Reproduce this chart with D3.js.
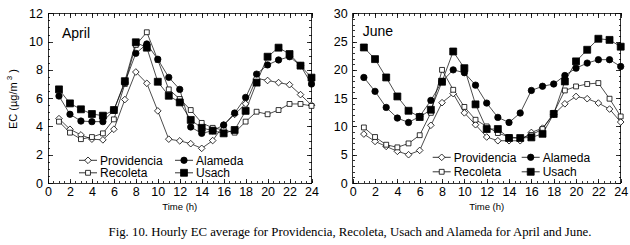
<!DOCTYPE html>
<html>
<head>
<meta charset="utf-8">
<script src="https://cdn.jsdelivr.net/npm/d3@7"></script>
<style>
  body { margin: 0; background: #fff; }
  svg { display: block; }
  text { font-family: Arial, "Liberation Sans", sans-serif; fill: #000; }
  .axis path, .axis line { stroke: #000; stroke-width: 0.8; shape-rendering: crispEdges; }
  .caption { font-family: "Times New Roman", "Liberation Serif", serif; }
</style>
</head>
<body>
<div id="chart"></div>
<script>
// hours 1..24
const hours = d3.range(1, 25);
const stations = ["Providencia", "Recoleta", "Alameda", "Usach"];

// April EC (ug/m3)
const aprilProvidencia = [4.55, 3.8, 3.4, 3.1, 3.05, 3.8, 5.9, 7.85, 7.05, 5.1, 3.1, 2.98, 2.78, 2.45, 3.0, 4.1, 4.85, 5.6, 7.4, 7.25, 7.1, 6.95, 6.25, 5.5];
const aprilRecoleta    = [4.34, 3.56, 3.1, 3.25, 3.51, 4.5, 7.0, 9.76, 10.66, 8.7, 6.62, 5.94, 5.16, 4.25, 3.9, 3.75, 3.56, 4.34, 5.04, 4.86, 5.16, 5.59, 5.59, 5.45];
const aprilAlameda     = [6.15, 4.86, 4.38, 4.34, 4.34, 5.15, 7.1, 9.17, 9.83, 8.75, 7.47, 6.62, 3.96, 3.51, 3.7, 4.1, 4.95, 6.05, 7.7, 8.35, 8.7, 8.93, 8.3, 7.0];
const aprilUsach       = [6.62, 5.63, 5.21, 4.88, 4.76, 5.16, 7.2, 9.95, 9.57, 7.16, 6.17, 5.7, 4.46, 3.9, 3.7, 3.51, 3.75, 5.1, 7.1, 8.93, 9.57, 9.12, 8.3, 7.45];

// June EC (ug/m3)
const juneProvidencia = [8.65, 7.35, 6.47, 5.6, 5.0, 5.76, 10.2, 14.2, 15.8, 12.4, 10.3, 8.13, 7.47, 7.47, 7.47, 8.94, 9.7, 12.1, 14.0, 15.3, 14.9, 14.13, 13.07, 10.78];
const juneRecoleta    = [9.82, 8.13, 6.77, 6.3, 7.0, 8.45, 12.4, 20.0, 16.48, 13.45, 11.18, 10.0, 8.83, 8.13, 7.95, 8.5, 9.54, 12.4, 16.36, 17.07, 17.5, 17.67, 14.9, 11.77];
const juneAlameda     = [18.66, 16.2, 13.36, 11.48, 10.7, 11.77, 14.6, 17.95, 20.0, 19.5, 17.3, 14.13, 11.6, 10.7, 12.37, 16.36, 17.1, 17.5, 19.0, 20.3, 21.2, 21.8, 21.8, 20.6];
const juneUsach       = [23.96, 21.9, 18.66, 15.3, 12.77, 11.66, 12.95, 17.9, 23.25, 20.3, 13.9, 9.54, 9.54, 7.95, 7.95, 8.06, 8.7, 12.2, 17.95, 21.5, 23.55, 25.5, 25.3, 24.1];

const xTicks = d3.range(0, 25, 2);
const aprilYTicks = [0, 2, 4, 6, 8, 10, 12];
const juneYTicks = [0, 5, 10, 15, 20, 25, 30];

const W = 630, H = 245;
const svg = d3.select('#chart').append('svg')
    .attr('width', W)
    .attr('height', H);

// marker shapes per station
const markerStyle = {
    Providencia: {type: d3.symbolDiamond2, size: 28, fill: '#fff'},
    Recoleta: {type: d3.symbolSquare2, size: 30, fill: '#fff'},
    Alameda: {type: d3.symbolCircle, size: 32, fill: '#000'},
    Usach: {type: d3.symbolSquare, size: 48, fill: '#000'}
};

function drawMarker(g, name, x, y) {
    const m = markerStyle[name];
    g.append('path')
        .attr('d', d3.symbol().type(m.type).size(m.size)())
        .attr('transform', `translate(${x},${y})`)
        .attr('fill', m.fill)
        .attr('stroke', '#000')
        .attr('stroke-width', 0.8);
}

function drawPanel(cfg) {
    const width = cfg.right - cfg.left;
    const height = cfg.bottom - cfg.top;
    const g = svg.append('g').attr('transform', `translate(${cfg.left},${cfg.top})`);

    const x = d3.scaleLinear().domain([0, 24]).range([0, width]);
    const y = d3.scaleLinear().domain([0, cfg.yMax]).range([height, 0]);

    const xMinor = d3.range(0, 24.01, 0.5);
    const yMinor = d3.range(0, cfg.yMax + 0.01, cfg.yMinorStep);

    // frame
    g.append('rect')
        .attr('width', width).attr('height', height)
        .attr('fill', 'none').attr('stroke', '#000').attr('stroke-width', 0.8)
        .attr('shape-rendering', 'crispEdges');

    // minor ticks on all sides
    const minor = [
        [d3.axisBottom(x), `translate(0,${height})`, xMinor],
        [d3.axisTop(x), 'translate(0,0)', xMinor],
        [d3.axisLeft(y), 'translate(0,0)', yMinor],
        [d3.axisRight(y), `translate(${width},0)`, yMinor]
    ];
    minor.forEach(([ax, tr, vals]) => {
        g.append('g').attr('class', 'axis').attr('transform', tr)
            .call(ax.tickValues(vals).tickSize(-2.2).tickFormat(''))
            .call(a => a.select('.domain').remove());
    });

    // major ticks with labels
    g.append('g').attr('class', 'axis').attr('transform', `translate(0,${height})`)
        .call(d3.axisBottom(x).tickValues(xTicks).tickSize(-4.5).tickPadding(4))
        .call(a => a.select('.domain').remove())
        .call(a => a.selectAll('text').attr('font-size', 12.5).attr('font-family', 'Arial, "Liberation Sans", sans-serif'));
    g.append('g').attr('class', 'axis')
        .call(d3.axisLeft(y).tickValues(cfg.yTicks).tickSize(-4.5).tickPadding(5))
        .call(a => a.select('.domain').remove())
        .call(a => a.selectAll('text').attr('font-size', 12.5).attr('font-family', 'Arial, "Liberation Sans", sans-serif'));
    g.append('g').attr('class', 'axis')
        .call(d3.axisTop(x).tickValues(xTicks).tickSize(-4.5).tickFormat(''))
        .call(a => a.select('.domain').remove());
    g.append('g').attr('class', 'axis').attr('transform', `translate(${width},0)`)
        .call(d3.axisRight(y).tickValues(cfg.yTicks).tickSize(-4.5).tickFormat(''))
        .call(a => a.select('.domain').remove());

    // x title
    g.append('text')
        .attr('x', width / 2).attr('y', height + 27)
        .attr('text-anchor', 'middle').attr('font-size', 9.5)
        .text('Time (h)');

    // panel title
    g.append('text')
        .attr('x', cfg.titleX).attr('y', cfg.titleY)
        .attr('font-size', 14)
        .text(cfg.title);

    // series
    const line = d3.line().x((d, i) => x(hours[i])).y(d => y(d));
    stations.forEach(name => {
        const vals = cfg.series[name];
        g.append('path')
            .datum(vals)
            .attr('d', line)
            .attr('fill', 'none')
            .attr('stroke', '#000')
            .attr('stroke-width', 0.7);
    });
    stations.forEach(name => {
        cfg.series[name].forEach((v, i) => drawMarker(g, name, x(hours[i]), y(v)));
    });

    // legend
    const leg = cfg.legend;
    const legendItems = [
        {name: 'Providencia', col: 0, row: 0},
        {name: 'Alameda', col: 1, row: 0},
        {name: 'Recoleta', col: 0, row: 1},
        {name: 'Usach', col: 1, row: 1}
    ];
    legendItems.forEach(it => {
        const lx = leg.x + it.col * leg.colGap;
        const ly = leg.y + it.row * leg.rowGap;
        g.append('line')
            .attr('x1', lx).attr('x2', lx + 18)
            .attr('y1', ly).attr('y2', ly)
            .attr('stroke', '#000').attr('stroke-width', 0.8);
        drawMarker(g, it.name, lx + 9, ly);
        g.append('text')
            .attr('x', lx + 21).attr('y', ly + 4.3)
            .attr('font-size', 12)
            .text(it.name);
    });
}

drawPanel({
    left: 48, right: 311.5, top: 13.3, bottom: 183,
    yMax: 12, yTicks: aprilYTicks, yMinorStep: 0.5,
    title: 'April', titleX: 14, titleY: 25,
    series: {Providencia: aprilProvidencia, Recoleta: aprilRecoleta, Alameda: aprilAlameda, Usach: aprilUsach},
    legend: {x: 31, y: 147, colGap: 96, rowGap: 12.5}
});

drawPanel({
    left: 352.7, right: 620.7, top: 13.3, bottom: 183,
    yMax: 30, yTicks: juneYTicks, yMinorStep: 1,
    title: 'June', titleX: 10, titleY: 23,
    series: {Providencia: juneProvidencia, Recoleta: juneRecoleta, Alameda: juneAlameda, Usach: juneUsach},
    legend: {x: 80, y: 144, colGap: 89, rowGap: 14.5}
});

// y axis title (left panel only)
svg.append('text')
    .attr('transform', 'translate(17,99) rotate(-90)')
    .attr('text-anchor', 'middle')
    .attr('font-size', 11)
    .html('EC (<tspan>µ</tspan>g/m<tspan dy="-5" font-size="8"> 3</tspan><tspan dy="5"> )</tspan>');

// caption
svg.append('text')
    .attr('class', 'caption')
    .attr('x', 350).attr('y', 236)
    .attr('text-anchor', 'middle')
    .attr('font-size', 12.8)
    .attr('font-family', '"Times New Roman", "Liberation Serif", serif')
    .text('Fig. 10. Hourly EC average for Providencia, Recoleta, Usach and Alameda for April and June.');
</script>
</body>
</html>
